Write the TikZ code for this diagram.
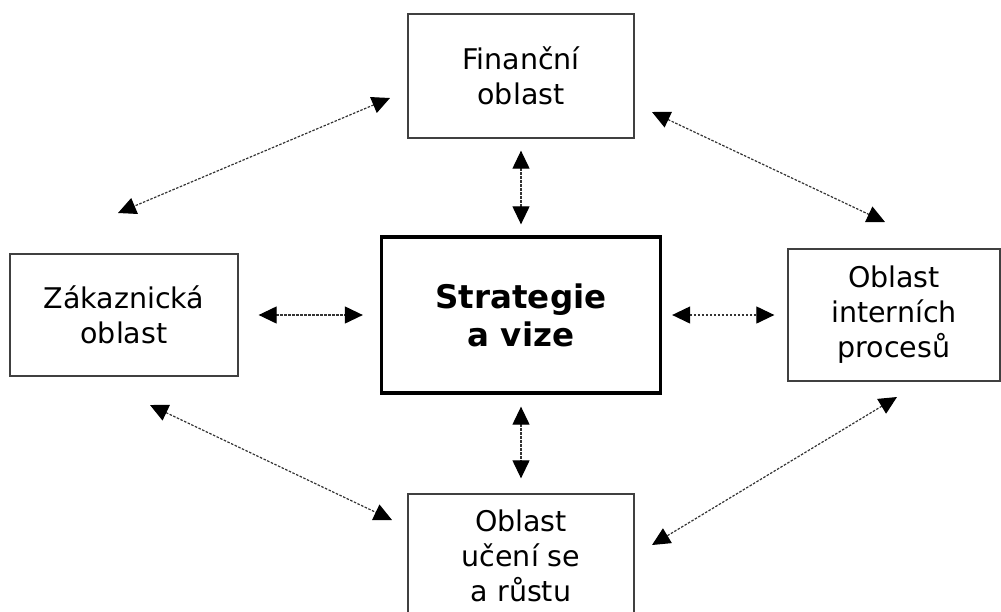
\documentclass[tikz,border=0pt]{standalone}
\usepackage{fontspec}
\setmainfont{DejaVu Sans}
\usepackage{tikz}
\usetikzlibrary{arrows.meta}
\tikzstyle{area} = [draw=black!75,line width=1.3pt,inner sep=0pt,align=center,font=\fontsize{28.5}{35}\selectfont]
\tikzstyle{core} = [draw=black,line width=3.3pt,inner sep=0pt,align=center,minimum width=279pt,minimum height=156pt,font=\bfseries\fontsize{32.5}{38}\selectfont]
\tikzstyle{link} = [black!80,line width=1.2pt,dash pattern=on 2.5pt off 1.5pt,<->,>={Triangle[length=18pt,width=17pt,color=black]}]

\begin{document}
\begin{tikzpicture}[x=1pt,y=-1pt]
\clip (0,0) rectangle (1001,611);

\node[core] (sv) at (521,315) {Strategie\\a vize};
\node[area,minimum width=226pt,minimum height=124pt] (fin) at (521,76) {Finanční\\oblast};
\node[area,minimum width=228pt,minimum height=122pt] (zak) at (124,315) {Zákaznická\\oblast};
\node[area,minimum width=212pt,minimum height=132pt] (int) at (894,315) {Oblast\\interních\\procesů};
\node[area,minimum width=226pt,minimum height=124pt] (uc) at (521,556) {Oblast\\učení se\\a růstu};

% koncove body sikmych sipek
\coordinate (finW) at (390,98);
\coordinate (zakN) at (118,213);
\coordinate (finE) at (652,112);
\coordinate (intN) at (885,222);
\coordinate (zakS) at (150,405);
\coordinate (ucW) at (392,520);
\coordinate (intS) at (897,397);
\coordinate (ucE) at (652,545);

\draw[link,shorten <=12pt,shorten >=11pt] (fin) -- (sv);
\draw[link,shorten <=12pt,shorten >=15pt] (sv) -- (uc);
\draw[link,shorten <=20pt,shorten >=17pt] (zak) -- (sv);
\draw[link,shorten <=10pt,shorten >=13pt] (sv) -- (int);

\draw[link] (finW) -- (zakN);
\draw[link] (finE) -- (intN);
\draw[link] (zakS) -- (ucW);
\draw[link] (intS) -- (ucE);

\end{tikzpicture}
\end{document}
